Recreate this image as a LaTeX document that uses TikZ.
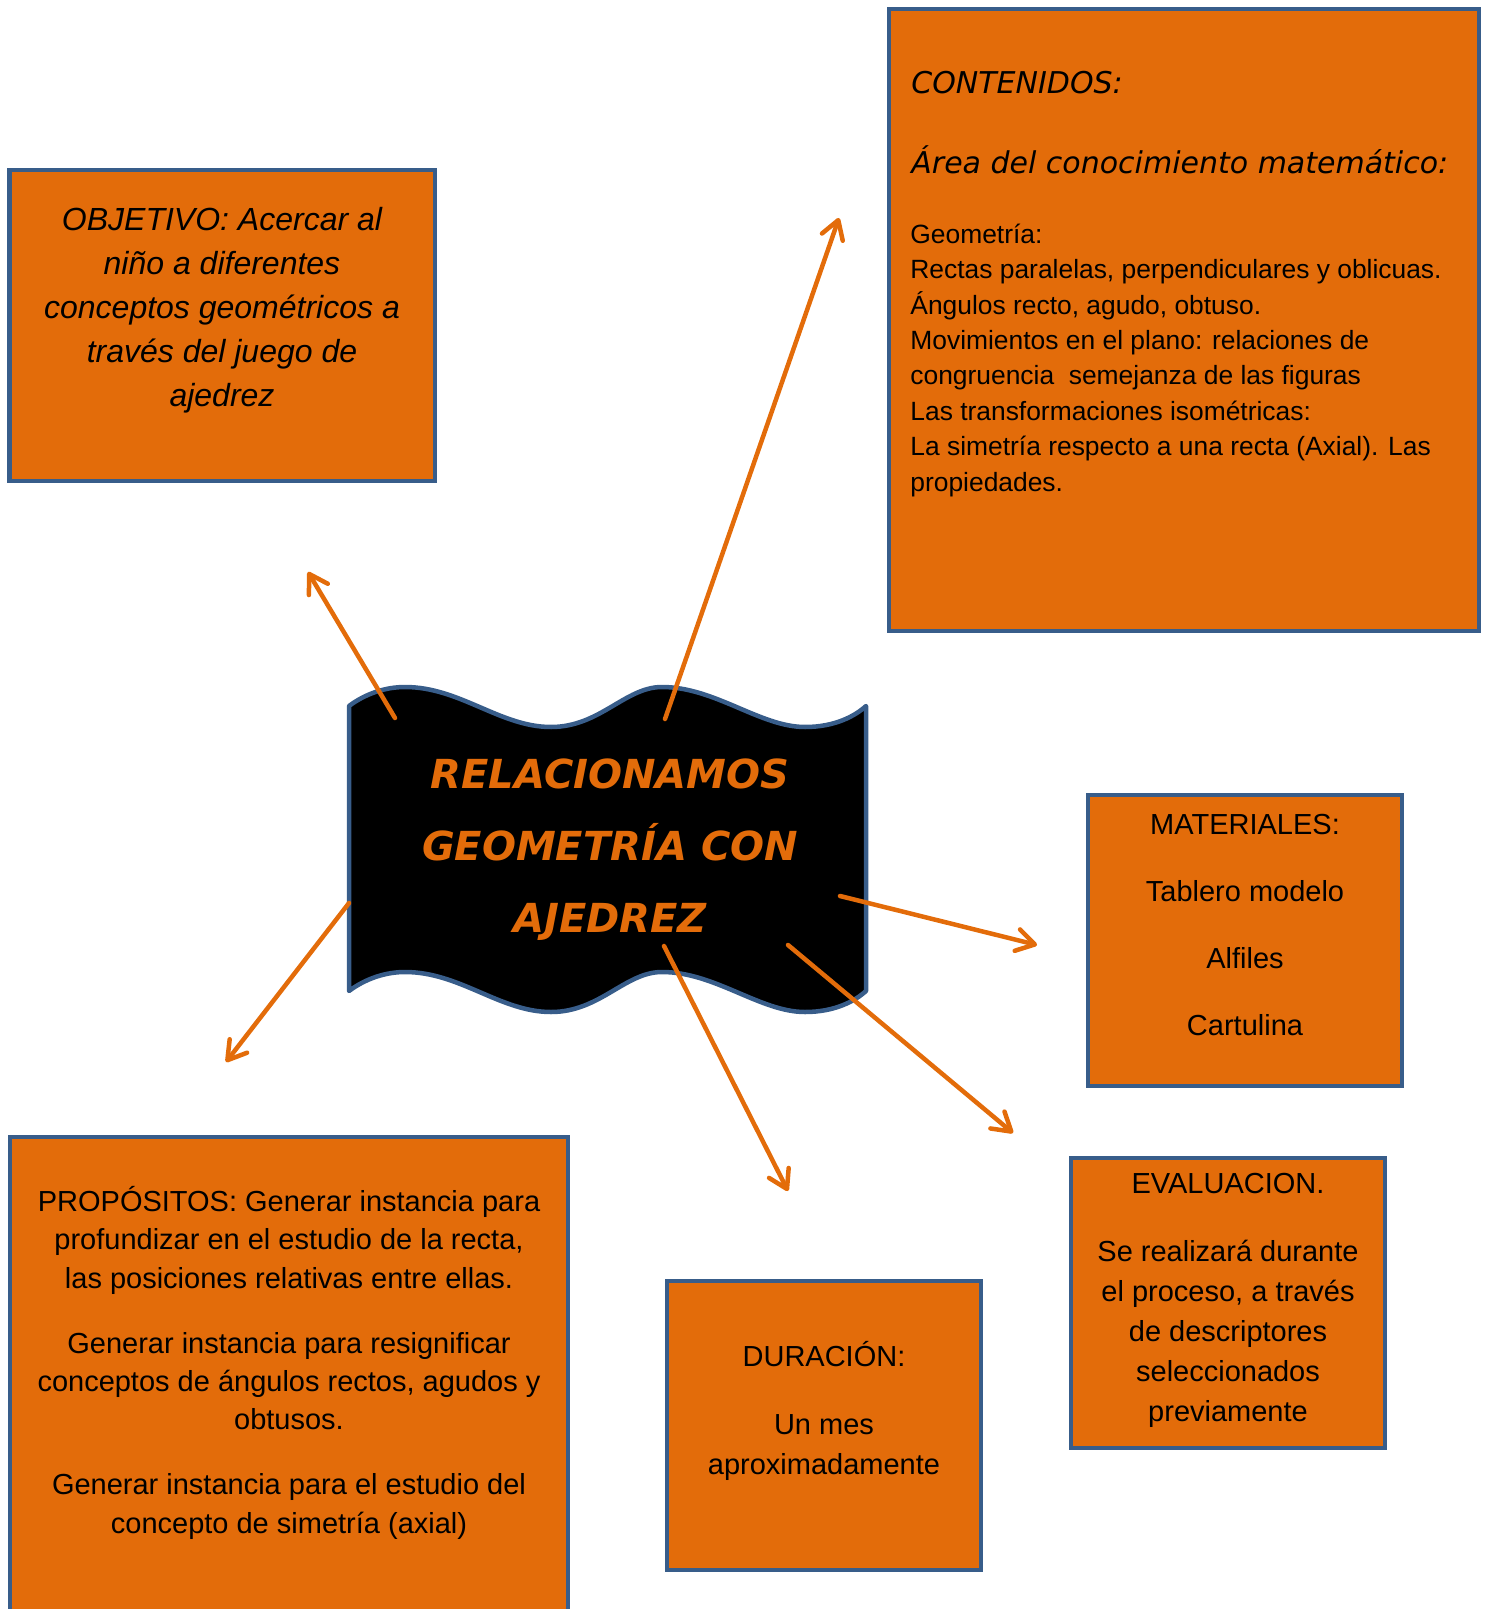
\documentclass[tikz,border=0pt]{standalone}
\usepackage{fontspec}
\usepackage{xcolor}
\setmainfont{Liberation Sans}
\newfontfamily\comicfont{DejaVu Sans}
\usetikzlibrary{arrows.meta}
\definecolor{boxorange}{HTML}{E36C0A}
\definecolor{boxblue}{HTML}{385D8A}
\tikzstyle{box} = [rectangle, draw=boxblue, fill=boxorange, line width=2.25pt, inner sep=0pt]
\tikzstyle{boxtext} = [inner sep=0pt, align=center, text=black]
\tikzstyle{wave} = [draw=boxblue, fill=black, line width=2.25pt, line join=round]
\tikzstyle{arrow} = [draw=boxorange, line width=2.25pt, line cap=round, -{Straight Barb[length=9pt,width=11pt,round]}]

\begin{document}
\begin{tikzpicture}[x=0.5pt, y=-0.5pt]
    \useasboundingbox (0,0) rectangle (1486,1609);
    \clip (0,0) rectangle (1486,1609);

    % boxes
    \node (objetivo) [box, minimum width=212.75pt, minimum height=155.25pt] at (222,325.5) {};
    \node (contenidos) [box, minimum width=295pt, minimum height=311pt] at (1184,320) {};
    \node (materiales) [box, minimum width=157pt, minimum height=145.5pt] at (1245,940.5) {};
    \node (evaluacion) [box, minimum width=157pt, minimum height=145pt] at (1228,1303) {};
    \node (duracion) [box, minimum width=157pt, minimum height=144.5pt] at (824,1425.5) {};
    \node (propositos) [box, minimum width=279pt, minimum height=261.5pt] at (289,1398.5) {};

    % banner
    \draw [wave] (349,706) .. controls (365,694) and (385,687) .. (405,687)
        .. controls (460,687) and (500,727) .. (551,727)
        .. controls (600,727) and (625,687) .. (662,687)
        .. controls (715,687) and (760,727) .. (805,727)
        .. controls (835,727) and (855,716) .. (866,706)
        -- (866,991)
        .. controls (855,1001) and (835,1012) .. (805,1012)
        .. controls (760,1012) and (715,972) .. (662,972)
        .. controls (625,972) and (600,1012) .. (551,1012)
        .. controls (500,1012) and (460,972) .. (405,972)
        .. controls (385,972) and (365,979) .. (349,991) -- cycle;
    % base anchor = baseline of the last line
    \node (tema) [boxtext, anchor=base, text=boxorange, font=\comicfont\fontsize{20}{36}\selectfont\bfseries\itshape] at (610,932)
        {RELACIONAMOS\\ GEOMETRÍA CON\\ AJEDREZ};

    % texts
    \node (objText) [boxtext, anchor=base, font=\fontsize{16}{22}\selectfont\itshape] at (222,407)
        {OBJETIVO: Acercar al\\ niño a diferentes\\ conceptos geométricos a\\ través del juego de\\ ajedrez};
    \node (contHead) [boxtext, anchor=base west, font=\comicfont\fontsize{15}{18}\selectfont\itshape] at (911,94) {CONTENIDOS:};
    \node (contArea) [boxtext, anchor=base west, font=\comicfont\fontsize{15}{18}\selectfont\itshape] at (911,174) {Área del conocimiento matemático:};
    \node (contBody) [boxtext, align=left, anchor=base west, font=\fontsize{13.2}{17.7}\selectfont] at (910,491)
        {Geometría:\\ Rectas paralelas, perpendiculares y oblicuas.\\ Ángulos recto, agudo, obtuso.\\
         Movimientos en el plano: relaciones de\\ congruencia\ \ semejanza de las figuras\\
         Las transformaciones isométricas:\\ La simetría respecto a una recta (Axial). Las\\ propiedades.};
    \node (matText) [boxtext, anchor=base, font=\fontsize{14.5}{33.5}\selectfont] at (1245,1035)
        {MATERIALES:\\ Tablero modelo\\ Alfiles\\ Cartulina};
    \node (evalText) [boxtext, anchor=base, font=\fontsize{14.5}{20}\selectfont] at (1228,1421)
        {EVALUACION.\\[14pt] Se realizará durante\\ el proceso, a través\\ de descriptores\\ seleccionados\\ previamente};
    \node (durText) [boxtext, anchor=base, font=\fontsize{14.5}{20}\selectfont] at (824,1474)
        {DURACIÓN:\\[14pt] Un mes\\ aproximadamente};
    \node (propText) [boxtext, anchor=base, font=\fontsize{14.5}{19.2}\selectfont] at (289,1533)
        {PROPÓSITOS: Generar instancia para\\ profundizar en el estudio de la recta,\\ las posiciones relativas entre ellas.\\[13.2pt]
         Generar instancia para resignificar\\ conceptos de ángulos rectos, agudos y\\ obtusos.\\[13.2pt]
         Generar instancia para el estudio del\\ concepto de simetría (axial)};

    % arrow ends
    \coordinate (fromObj) at (395,718);
    \coordinate (toObj) at (308,572);
    \coordinate (fromCont) at (665,719);
    \coordinate (toCont) at (839,218);
    \coordinate (fromProp) at (349,903);
    \coordinate (toProp) at (226,1062);
    \coordinate (fromMat) at (840,896);
    \coordinate (toMat) at (1037,945);
    \coordinate (fromEval) at (788,945);
    \coordinate (toEval) at (1013,1133);
    \coordinate (fromDur) at (664,946);
    \coordinate (toDur) at (788,1191);

    \draw [arrow] (fromObj) -- (toObj);
    \draw [arrow] (fromCont) -- (toCont);
    \draw [arrow] (fromProp) -- (toProp);
    \draw [arrow] (fromMat) -- (toMat);
    \draw [arrow] (fromEval) -- (toEval);
    \draw [arrow] (fromDur) -- (toDur);
\end{tikzpicture}
\end{document}
